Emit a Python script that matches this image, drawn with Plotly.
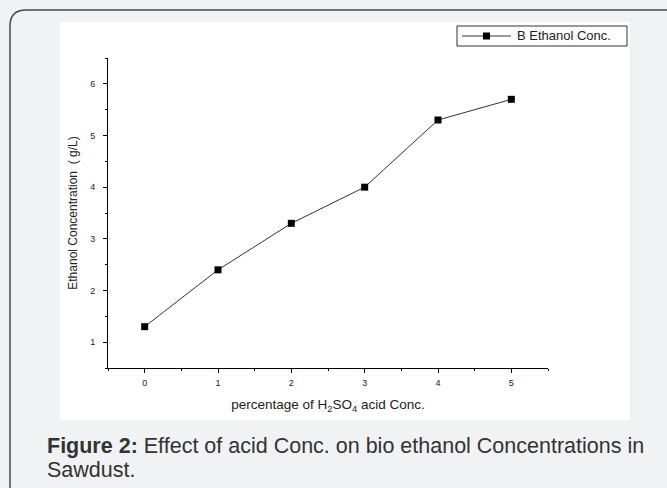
import plotly.graph_objects as go

acid_conc = [0, 1, 2, 3, 4, 5]
ethanol_conc = [1.3, 2.4, 3.3, 4.0, 5.3, 5.7]
series_name = "B Ethanol Conc."
x_title = "percentage of H<sub>2</sub>SO<sub>4</sub> acid Conc."
y_title = "Ethanol Concentration  ( g/L)"
caption_lines = ["<b>Figure 2:</b> Effect of acid Conc. on bio ethanol Concentrations in", "Sawdust."]

W, H = 667, 488
L, R, T, B = 108, 548, 58, 368
PW, PH = R - L, B - T

def px(xp):
    return (xp - L) / PW

def py(yp):
    return (B - yp) / PH

fig = go.Figure()
fig.add_trace(go.Scatter(
    x=acid_conc, y=ethanol_conc, mode="lines+markers", name=series_name,
    line=dict(color="#333333", width=1),
    marker=dict(symbol="square", size=7, color="black"),
    showlegend=False,
))

shapes = []
r = 16
x0, y0, x1, y1 = 10, 10, 680, 500
path = (f"M {px(x1)},{py(y0)} L {px(x0 + r)},{py(y0)} Q {px(x0)},{py(y0)} {px(x0)},{py(y0 + r)} "
        f"L {px(x0)},{py(y1)}")
shapes.append(dict(type="path", xref="paper", yref="paper", path=path,
                   line=dict(color="#4a4a4a", width=1.5), fillcolor="rgba(0,0,0,0)", layer="below"))
shapes.append(dict(type="rect", xref="paper", yref="paper",
                   x0=px(60), x1=px(630), y0=py(420), y1=py(22),
                   fillcolor="white", line=dict(width=0), layer="below"))
# legend box (drawn manually to match the reference's proportions)
shapes.append(dict(type="rect", xref="paper", yref="paper",
                   x0=px(457), x1=px(627), y0=py(46), y1=py(26),
                   fillcolor="white", line=dict(color="#333333", width=1), layer="above"))
shapes.append(dict(type="line", xref="paper", yref="paper",
                   x0=px(462), x1=px(511), y0=py(36), y1=py(36),
                   line=dict(color="#333333", width=1), layer="above"))
shapes.append(dict(type="rect", xref="paper", yref="paper",
                   x0=px(483), x1=px(490), y0=py(39.5), y1=py(32.5),
                   fillcolor="black", line=dict(width=0), layer="above"))
fig.update_layout(shapes=shapes)

fig.add_annotation(xref="paper", yref="paper", x=px(515), y=py(36), xanchor="left", yanchor="middle",
                   text=series_name, showarrow=False,
                   font=dict(family="Liberation Sans, Arial", size=13, color="#222222"))

for line, ycen in zip(caption_lines, [446, 470]):
    fig.add_annotation(xref="paper", yref="paper", x=px(45), y=py(ycen), xanchor="left", yanchor="middle",
                       text=line, showarrow=False, align="left",
                       font=dict(family="Liberation Sans, Arial", size=21.5, color="#333333"))

fig.update_layout(
    width=W, height=H,
    margin=dict(l=L, r=W - R, t=T, b=H - B),
    paper_bgcolor="#f1f2f4", plot_bgcolor="white",
    font=dict(family="Liberation Sans, Arial", color="#222222"),
    showlegend=False,
)
fig.update_xaxes(
    range=[-0.5, 5.5], showgrid=False, zeroline=False,
    showline=True, linecolor="black", linewidth=1,
    ticks="outside", ticklen=4, tickcolor="black", dtick=1, tick0=0,
    tickfont=dict(size=9, color="#222222"), ticklabelstandoff=2,
    minor=dict(ticks="outside", ticklen=2, dtick=0.5, tick0=0, tickcolor="black"),
    title=dict(text=x_title, font=dict(size=13.5, color="#222222"), standoff=12),
)
fig.update_yaxes(
    range=[0.5, 6.5], showgrid=False, zeroline=False,
    showline=True, linecolor="black", linewidth=1,
    ticks="outside", ticklen=4, tickcolor="black", dtick=1, tick0=0,
    tickfont=dict(size=9, color="#222222"), ticklabelstandoff=6,
    minor=dict(ticks="outside", ticklen=2, dtick=0.5, tick0=0, tickcolor="black"),
    title=dict(text=y_title, font=dict(size=12, color="#222222"), standoff=9),
)

fig.write_html("out.html")
